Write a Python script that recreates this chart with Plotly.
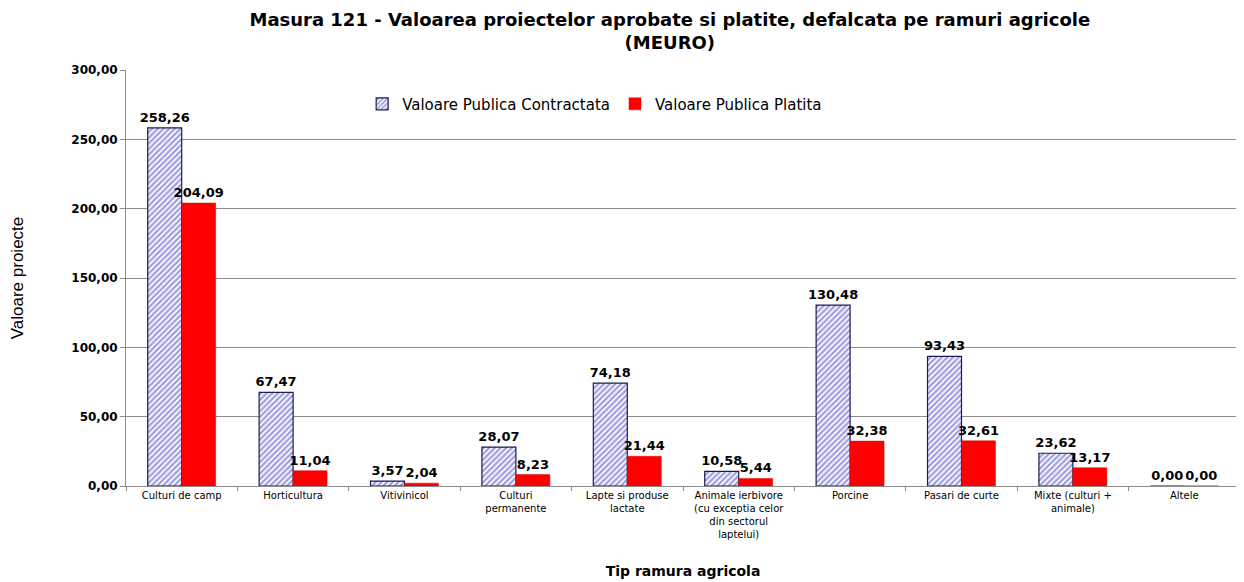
import plotly.graph_objects as go

categories = [
    "Culturi de camp",
    "Horticultura",
    "Vitivinicol",
    "Culturi<br>permanente",
    "Lapte si produse<br>lactate",
    "Animale ierbivore<br>(cu exceptia celor<br>din sectorul<br>laptelui)",
    "Porcine",
    "Pasari de curte",
    "Mixte (culturi +<br>animale)",
    "Altele",
]
contractata = [258.26, 67.47, 3.57, 28.07, 74.18, 10.58, 130.48, 93.43, 23.62, 0.00]
platita = [204.09, 11.04, 2.04, 8.23, 21.44, 5.44, 32.38, 32.61, 13.17, 0.00]
y_ticks = [0, 50, 100, 150, 200, 250, 300]

label_font = dict(family="DejaVu Sans, Verdana", size=13, color="black")

fig = go.Figure()
fig.add_trace(go.Bar(
    name="Valoare Publica Contractata",
    x=categories, y=contractata,
    marker=dict(
        color="white",
        line=dict(color="#1c1c50", width=1.2),
        pattern=dict(shape="/", fgcolor="#3c3cc0", bgcolor="#ffffff", size=4, solidity=0.55),
    ),
    texttemplate="<b>%{y:.2f}</b>", textposition="outside", textfont=label_font,
    constraintext="none", cliponaxis=False,
))
fig.add_trace(go.Bar(
    name="Valoare Publica Platita",
    x=categories, y=platita,
    marker=dict(color="#ff0000", line=dict(color="#e00000", width=0.5)),
    texttemplate="<b>%{y:.2f}</b>", textposition="outside", textfont=label_font,
    constraintext="none", cliponaxis=False,
))

fig.update_layout(
    width=1244, height=582,
    separators=",.",
    barmode="group", bargap=0.39, bargroupgap=0,
    plot_bgcolor="white", paper_bgcolor="white",
    margin=dict(l=118, r=12, t=62, b=104, autoexpand=False),
    title=dict(
        text="<b>Masura 121 - Valoarea proiectelor aprobate si platite, defalcata pe ramuri agricole<br>(MEURO)</b>",
        x=0.532, xanchor="center", y=0.969, yanchor="middle",
        font=dict(family="DejaVu Sans, Verdana", size=18, color="black"),
    ),
    legend=dict(
        orientation="h", x=0.212, y=0.918, xanchor="left", yanchor="middle",
        font=dict(family="DejaVu Sans, Verdana", size=15, color="black"),
        bgcolor="rgba(0,0,0,0)", traceorder="normal",
    ),
    showlegend=True,
)
fig.update_yaxes(
    range=[0, 300], tickvals=y_ticks, tickformat=".2f", automargin=False,
    tickfont=dict(family="DejaVu Sans, Verdana", size=12, color="black", weight="bold"),
    showgrid=True, gridcolor="#8c8c8c", gridwidth=1,
    showline=True, linecolor="#8c8c8c", linewidth=1,
    ticks="outside", ticklen=5, tickcolor="#8c8c8c",
    title=dict(text="Valoare proiecte", standoff=43,
               font=dict(family="Liberation Sans, Arial", size=17, color="black")),
    zeroline=False,
)
fig.update_xaxes(
    automargin=False,
    tickfont=dict(family="DejaVu Sans, Verdana", size=10, color="black"),
    showline=True, linecolor="#8c8c8c", linewidth=1,
    ticks="outside", ticklen=4, tickcolor="#8c8c8c", tickson="boundaries",
    tickangle=0,
    title=dict(text="<b>Tip ramura agricola</b>", standoff=27,
               font=dict(family="DejaVu Sans, Verdana", size=14, color="black")),
)

fig.write_html("out.html")
